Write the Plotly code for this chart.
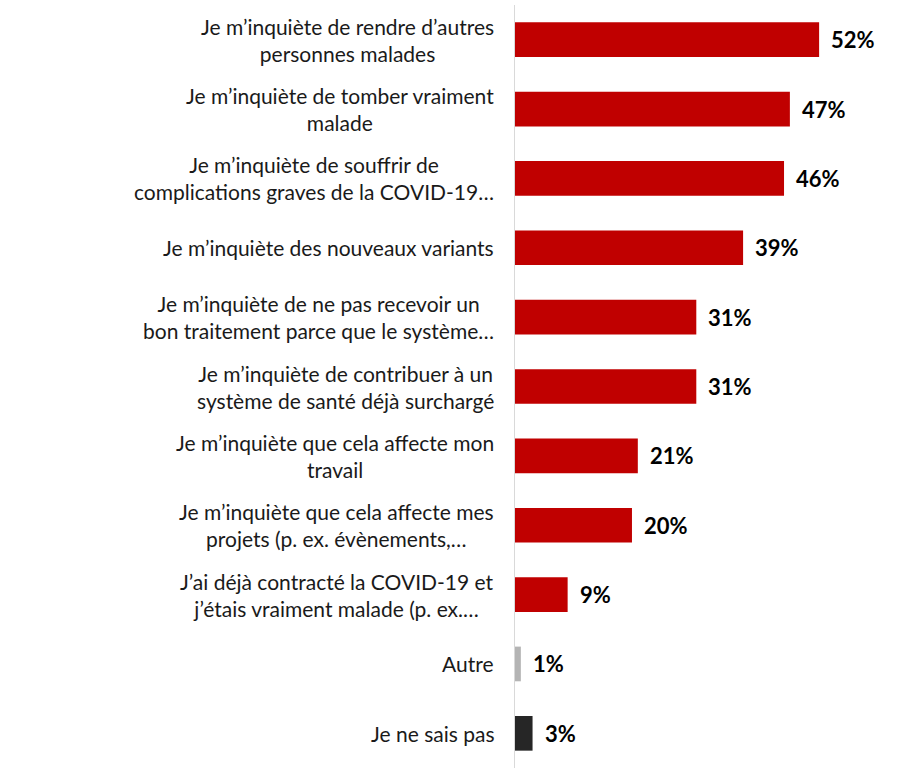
import plotly.graph_objects as go

categories = [
    "Je m’inquiète de rendre d’autres<br>personnes malades",
    "Je m’inquiète de tomber vraiment<br>malade",
    "Je m’inquiète de souffrir de<br>complications graves de la COVID-19…",
    "Je m’inquiète des nouveaux variants",
    "Je m’inquiète de ne pas recevoir un<br>bon traitement parce que le système…",
    "Je m’inquiète de contribuer à un<br>système de santé déjà surchargé",
    "Je m’inquiète que cela affecte mon<br>travail",
    "Je m’inquiète que cela affecte mes<br>projets (p. ex. évènements,…",
    "J’ai déjà contracté la COVID-19 et<br>j’étais vraiment malade (p. ex.…",
    "Autre",
    "Je ne sais pas",
]
values = [52, 47, 46, 39, 31, 31, 21, 20, 9, 1, 3]
colors = ["#C00000"] * 9 + ["#B4B4B4", "#262626"]

fig = go.Figure()
fig.add_trace(go.Bar(
    y=categories,
    x=values,
    orientation="h",
    marker=dict(color=colors, line=dict(width=0)),
    width=0.5,
    hoverinfo="skip",
))

annotations = []
for cat, val in zip(categories, values):
    annotations.append(dict(
        x=0, y=cat, xref="x", yref="y",
        text=cat, showarrow=False,
        xanchor="right", align="center", xshift=-19,
        font=dict(family="Lato", size=21, color="#1a1a1a"),
    ))
    annotations.append(dict(
        x=val, y=cat, xref="x", yref="y",
        text="<b>%d%%</b>" % val, showarrow=False,
        xanchor="left", xshift=10,
        font=dict(family="Lato", size=22, color="#000000"),
    ))

fig.update_layout(
    width=913, height=768,
    margin=dict(l=515, r=12, t=5, b=0),
    plot_bgcolor="white",
    paper_bgcolor="white",
    showlegend=False,
    bargap=0.5,
    xaxis=dict(
        range=[0, 66],
        showgrid=False,
        zeroline=False,
        showline=False,
        showticklabels=False,
    ),
    yaxis=dict(
        autorange="reversed",
        showgrid=False,
        zeroline=False,
        showline=True,
        linecolor="#D9D9D9",
        linewidth=1,
        showticklabels=False,
        ticks="",
    ),
    annotations=annotations,
)

fig.write_html(
    "out.html",
    config={"displayModeBar": False},
    post_script="document.body.style.margin='0';document.body.style.padding='0';",
)
